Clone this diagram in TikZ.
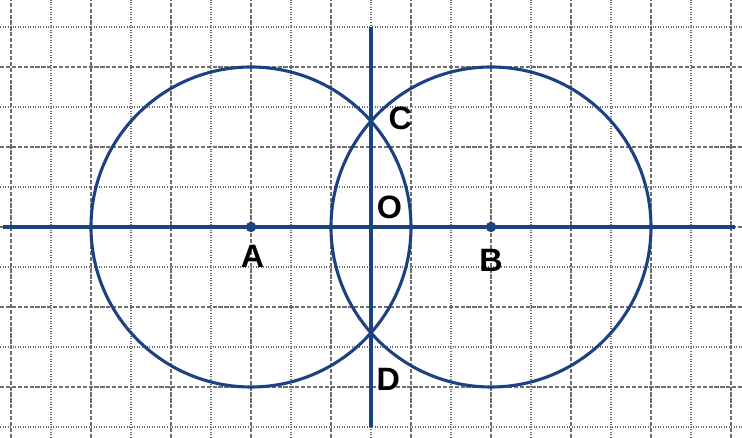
\documentclass[tikz,border=0pt]{standalone}
\usepackage{fontspec}
\setmainfont{Liberation Sans}
\usetikzlibrary{positioning}

\definecolor{geoblue}{RGB}{28,66,130}
\definecolor{gridgray}{RGB}{110,110,110}

\begin{document}
\begin{tikzpicture}[
    major/.style={draw=gridgray, line width=0.75pt, dash pattern=on 3pt off 1.2pt},
    minor/.style={draw=gridgray, line width=0.75pt, dash pattern=on 0.7pt off 1.1pt},
    geoline/.style={draw=geoblue, line width=2.2pt},
    dot/.style={circle, fill=geoblue, inner sep=0pt, minimum size=0.26cm},
    letter/.style={font=\fontsize{23}{25}\selectfont\bfseries, inner sep=0pt}
]
    \useasboundingbox (-9.275,-5.275) rectangle (9.275,5.675);

    % 1. Grid (dashed and dotted lines in turn)
    \foreach \x in {-9,...,9} {
        \pgfmathparse{isodd(\x) ? "major" : "minor"}
        \edef\gridkind{\pgfmathresult}
        \draw[\gridkind] (\x,-5.275) -- (\x,5.675);
    }
    \foreach \y in {-5,...,5} {
        \pgfmathparse{isodd(\y) ? "minor" : "major"}
        \edef\gridkind{\pgfmathresult}
        \draw[\gridkind] (-9.275,\y) -- (9.275,\y);
    }

    % 2. Centres and the two circles
    \node (pointA) [dot] at (-3,0) {};
    \node (pointB) [dot] at (3,0) {};
    \draw[geoline] (pointA.center) circle (4);
    \draw[geoline] (pointB.center) circle (4);

    % 3. Line AB and the perpendicular through C and D
    \coordinate (left) at (-9.2,0);
    \coordinate (right) at (9.1,0);
    \coordinate (top) at (0,5);
    \coordinate (bottom) at (0,-5);
    \draw[geoline] (left) -- (right);
    \draw[geoline] (top) -- (bottom);

    % 4. Letters
    \node (labelA) [letter] at (-2.96,-0.74) {A};
    \node (labelB) [letter] at (3,-0.84) {B};
    \node (labelC) [letter] at (0.73,2.72) {C};
    \node (labelO) [letter] at (0.46,0.5) {O};
    \node (labelD) [letter] at (0.43,-3.8) {D};

\end{tikzpicture}
\end{document}
